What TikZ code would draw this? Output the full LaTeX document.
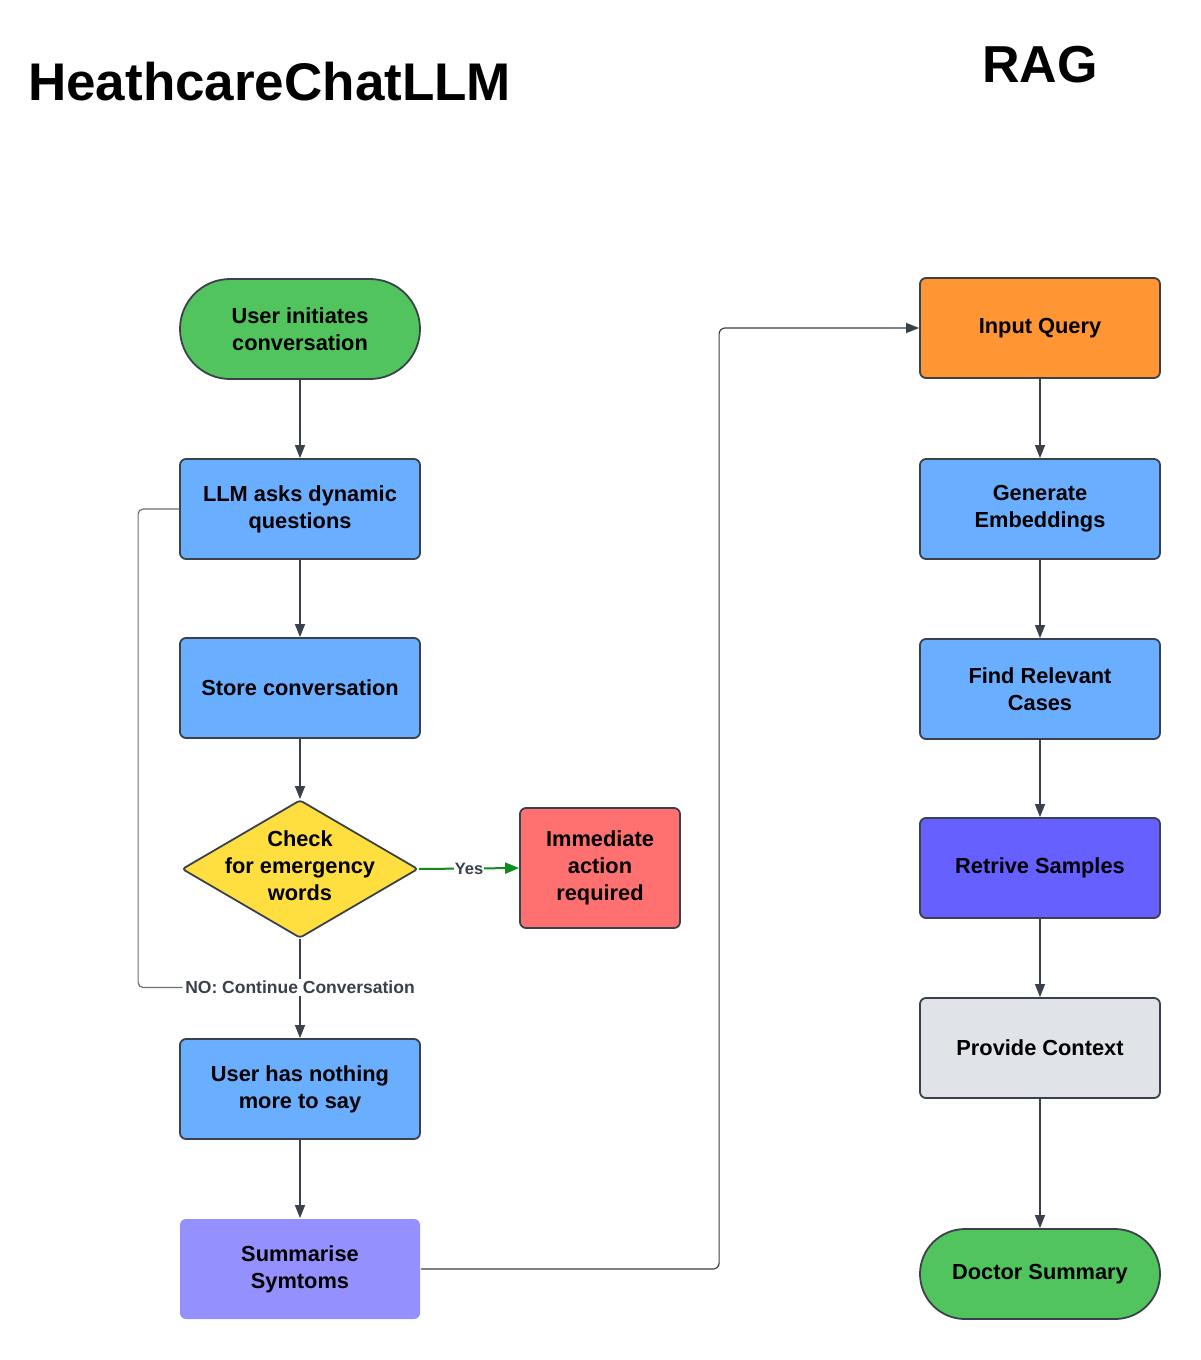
\documentclass[tikz,border=0pt]{standalone}
\usepackage{fontspec}
\setmainfont{Liberation Sans}
\usetikzlibrary{shapes.geometric,arrows.meta}
\definecolor{bordc}{HTML}{3A414A}
\definecolor{loopc}{HTML}{6B7078}
\definecolor{greenc}{HTML}{52C45E}
\definecolor{bluec}{HTML}{6AAFFF}
\definecolor{yellc}{HTML}{FFDF40}
\definecolor{redc}{HTML}{FF7070}
\definecolor{purpc}{HTML}{9491FF}
\definecolor{orangec}{HTML}{FF9533}
\definecolor{violc}{HTML}{6560FF}
\definecolor{greyc}{HTML}{E0E3E8}
\definecolor{yesc}{HTML}{118A1E}
\begin{document}
\begin{tikzpicture}[x=1pt,y=-1pt,
  box/.style={draw=bordc, line width=1.8pt, rounded corners=6pt, minimum width=240pt, minimum height=100pt,
    align=center, font=\bfseries\fontsize{21.8}{27}\selectfont, text=black, inner sep=0pt},
  stad/.style={box, rounded corners=50pt},
  arr/.style={draw=bordc, line width=1.2pt, -{Triangle[length=13pt,width=10pt]}},
  elabel/.style={fill=white, inner sep=2pt, text=bordc, font=\bfseries\fontsize{17.5}{19}\selectfont},
]
\useasboundingbox (0,0) rectangle (1200,1360);
\fill[white] (0,0) rectangle (1200,1360);

\node[font=\bfseries\fontsize{53}{60}\selectfont, anchor=west, inner sep=0pt] (title) at (28,82) {HeathcareChatLLM};
\node[font=\bfseries\fontsize{52}{60}\selectfont] (rag) at (1040,65) {RAG};

% left column
\node[stad, fill=greenc] (start) at (300,329) {User initiates\\conversation};
\node[box, fill=bluec] (llm) at (300,509) {LLM asks dynamic\\questions};
\node[box, fill=bluec] (store) at (300,688) {Store conversation};
\node[diamond, draw=bordc, line width=1.8pt, fill=yellc, rounded corners=3pt, aspect=1.71,
      minimum width=236pt, minimum height=138pt, inner sep=0pt] (chk) at (300,869) {};
\node[align=center, font=\bfseries\fontsize{21.8}{27}\selectfont] (chktxt) at (300,866) {Check\\for emergency\\words};
\node[box, fill=redc, minimum width=160pt, minimum height=120pt] (imm) at (600,868) {Immediate\\action\\required};
\node[box, fill=bluec] (nothing) at (300,1089) {User has nothing\\more to say};
\node[box, draw=none, fill=purpc] (summ) at (300,1269) {Summarise\\Symtoms};

% right column
\node[box, fill=orangec] (query) at (1040,328) {Input Query};
\node[box, fill=bluec] (embed) at (1040,509) {Generate\\Embeddings};
\node[box, fill=bluec] (find) at (1040,689) {Find Relevant\\Cases};
\node[box, fill=violc] (retr) at (1040,868) {Retrive Samples};
\node[box, fill=greyc] (ctx) at (1040,1048) {Provide Context};
\node[stad, fill=greenc, minimum height=90pt, rounded corners=45pt] (doc) at (1040,1274) {Doctor Summary};

% connectors left
\draw[arr] (start) -- (llm);
\draw[arr] (llm) -- (store);
\draw[arr] (store) -- (chk);
\draw[draw=yesc, line width=2pt, -{Triangle[length=14pt,width=11pt]}] (chk.east) -- node[fill=white, inner sep=1pt, text=bordc, font=\bfseries\fontsize{16.5}{18}\selectfont] (yes) {Yes} (imm.west);
\draw[arr] (chk.south) -- node[elabel, pos=0.49] (nolab) {NO: Continue Conversation} (nothing.north);
\draw[draw=loopc, line width=1.2pt, rounded corners=5pt] (nolab.west) -| ([xshift=-41pt]llm.west) -- (llm.west);
\draw[arr] (nothing) -- (summ);
\draw[arr, rounded corners=6pt] (summ.east) -| ([xshift=-200pt]query.west) -- (query.west);

% connectors right
\draw[arr] (query) -- (embed);
\draw[arr] (embed) -- (find);
\draw[arr] (find) -- (retr);
\draw[arr] (retr) -- (ctx);
\draw[arr] (ctx) -- (doc);
\end{tikzpicture}
\end{document}
